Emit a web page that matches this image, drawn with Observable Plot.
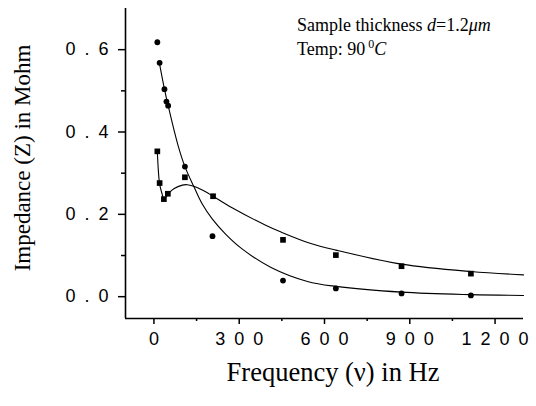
<!DOCTYPE html>
<html>
<head>
<meta charset="utf-8">
<script src="https://cdn.jsdelivr.net/npm/d3@7"></script>
<script src="https://cdn.jsdelivr.net/npm/@observablehq/plot@0.6"></script>
<style>
  html, body { margin: 0; padding: 0; background: white; }
  #chart { width: 536px; height: 406px; }
</style>
</head>
<body>
<div id="chart"></div>
<script>
// ---- data ----
const circleFreq = [12, 20, 37, 44, 50, 109, 206, 454, 640, 871, 1115];
const circleZ    = [0.618, 0.568, 0.504, 0.474, 0.464, 0.316, 0.147, 0.039, 0.020, 0.008, 0.003];

const squareFreq = [12, 20, 35, 49, 109, 208, 454, 640, 871, 1115];
const squareZ    = [0.353, 0.276, 0.237, 0.250, 0.290, 0.244, 0.138, 0.101, 0.074, 0.056];

// fitted curves
const circleFitFreq = [18, 37, 50, 85, 109, 140, 170, 205, 252, 310, 412, 540, 640, 871, 1115, 1300];
const circleFitZ    = [0.572, 0.504, 0.464, 0.367, 0.316, 0.268, 0.225, 0.189, 0.152, 0.116, 0.071, 0.037, 0.025, 0.011, 0.005, 0.003];

const squareFitFreq = [12, 20, 29, 35, 52, 70, 100, 117, 140, 170, 208, 275, 393, 447, 552, 640, 871, 1115, 1300];
const squareFitZ    = [0.353, 0.274, 0.249, 0.237, 0.251, 0.262, 0.271, 0.272, 0.268, 0.259, 0.244, 0.216, 0.1735, 0.157, 0.129, 0.113, 0.079, 0.061, 0.053];

const xDomain = [-100, 1300];
const yDomain = [-0.053, 0.70];
const xTicks = [0, 300, 600, 900, 1200];
const xMinorTicks = [150, 450, 750, 1050];
const yTicks = [0, 0.2, 0.4, 0.6];
const yMinorTicks = [0.1, 0.3, 0.5];

const xLabel = "Frequency (\u03BD) in Hz";
const yLabel = "Impedance (Z) in Mohm";
const annotLine1 = ["Sample thickness ", "d", "=1.2", "\u03BCm"];
const annotLine2 = ["Temp: 90", "0", "C"];

// ---- build tables ----
const zip = (xs, ys) => xs.map((x, i) => ({x, y: ys[i]}));
const circles = zip(circleFreq, circleZ);
const squares = zip(squareFreq, squareZ);
const circleFit = zip(circleFitFreq, circleFitZ);
const squareFit = zip(squareFitFreq, squareFitZ);

// spaced-out digits as printed in the reference
const spaced = s => s.split("").join("\u2002");

const plot = Plot.plot({
  width: 536,
  height: 406,
  marginLeft: 125,
  marginRight: 13,
  marginTop: 8,
  marginBottom: 88,
  x: {domain: xDomain},
  y: {domain: yDomain},
  style: {
    fontFamily: "'Liberation Sans', Arial, sans-serif",
    fontSize: "18px",
    color: "black",
    background: "white"
  },
  marks: [
    Plot.axisX({ticks: xTicks, tickSize: 6, tickPadding: 8, tickFormat: d => spaced(String(d)), label: null, strokeWidth: 1.5}),
    Plot.axisX({ticks: xMinorTicks, tickSize: 3, tickFormat: () => "", label: null, strokeWidth: 1.5}),
    Plot.axisY({ticks: yTicks, tickSize: 7, tickPadding: 10, tickFormat: d => spaced(d3.format(".1f")(d)), label: null, strokeWidth: 1.5}),
    Plot.axisY({ticks: yMinorTicks, tickSize: 4, tickFormat: () => "", label: null, strokeWidth: 1.5}),
    Plot.ruleX([xDomain[0]], {strokeWidth: 1.6}),
    Plot.ruleY([yDomain[0]], {strokeWidth: 1.6}),
    Plot.line(circleFit, {x: "x", y: "y", curve: "catmull-rom", stroke: "black", strokeWidth: 1.1}),
    Plot.line(squareFit, {x: "x", y: "y", curve: "catmull-rom", stroke: "black", strokeWidth: 1.1}),
    Plot.dot(circles, {x: "x", y: "y", r: 2.9, fill: "black", stroke: null}),
    Plot.dot(squares, {x: "x", y: "y", symbol: "square", r: 3.2, fill: "black", stroke: null})
  ]
});

document.getElementById("chart").appendChild(plot);

const svg = d3.select(plot);
const serif = "'Liberation Serif', 'Times New Roman', serif";

// axis titles
svg.append("text")
  .attr("x", 333)
  .attr("y", 381)
  .attr("text-anchor", "middle")
  .attr("font-family", serif)
  .attr("font-size", 26.5)
  .attr("fill", "black")
  .text(xLabel);

svg.append("text")
  .attr("transform", "translate(30,158) rotate(-90)")
  .attr("text-anchor", "middle")
  .attr("font-family", serif)
  .attr("font-size", 23)
  .attr("fill", "black")
  .text(yLabel);

// annotation
const ann = svg.append("g")
  .attr("font-family", serif)
  .attr("font-size", 18)
  .attr("text-anchor", "start")
  .attr("fill", "black");

const t1 = ann.append("text").attr("x", 297).attr("y", 31);
t1.append("tspan").text(annotLine1[0]);
t1.append("tspan").attr("font-style", "italic").text(annotLine1[1]);
t1.append("tspan").text(annotLine1[2]);
t1.append("tspan").attr("font-style", "italic").text(annotLine1[3]);

const t2 = ann.append("text").attr("x", 297).attr("y", 55);
t2.append("tspan").text(annotLine2[0]);
t2.append("tspan").attr("font-size", 12).attr("dy", -7).attr("dx", 3).text(annotLine2[1]);
t2.append("tspan").attr("font-style", "italic").attr("dy", 7).text(annotLine2[2]);
</script>
</body>
</html>
